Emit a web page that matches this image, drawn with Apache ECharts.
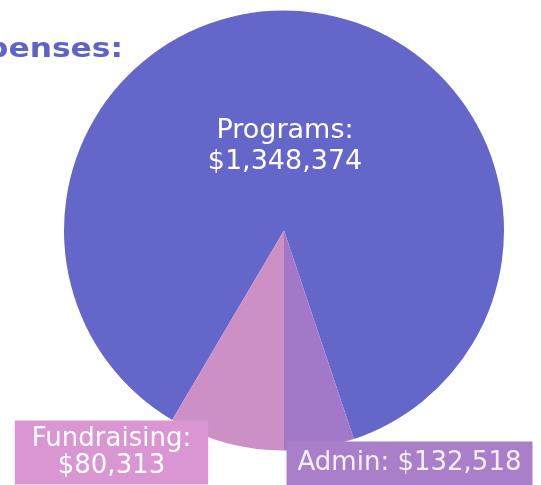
<!DOCTYPE html>
<html>
<head>
<meta charset="utf-8">
<script src="https://cdn.jsdelivr.net/npm/echarts@6/dist/echarts.min.js"></script>
<style>
html,body{margin:0;padding:0;background:#fff;}
#c{width:541px;height:485px;}
</style>
</head>
<body>
<div id="c"></div>
<script>
// Data
const categories = ['Programs', 'Fundraising', 'Admin'];
const values = [1348374, 80313, 132518];
const sliceColors = ['#6467c9', '#a279c8', '#cc90c6'];
const labelBoxColors = [null, '#da96d2', '#a97fc9'];
const titleText = 'Expenses:';

const fmt = v => '$' + v.toLocaleString('en-US');
const total = values.reduce((a, b) => a + b, 0);
// place the Fundraising/Admin boundary straight down
const startAngle = 360 * (values[0] + values[1]) / total - 90;

const FONT = 'DejaVu Sans';
const chart = echarts.init(document.getElementById('c'));

const data = categories.map((name, i) => {
  const item = { name, value: values[i], itemStyle: { color: sliceColors[i] } };
  if (i === 0) {
    item.label = {
      formatter: name + ':\n' + fmt(values[i]),
      color: '#ffffff', fontSize: 27, lineHeight: 31, fontFamily: FONT, align: 'center'
    };
  } else if (i === 1) {
    item.label = {
      formatter: name + ':\n' + fmt(values[i]),
      color: '#ffffff', fontSize: 26, lineHeight: 27, fontFamily: FONT, align: 'center',
      backgroundColor: labelBoxColors[i], padding: [5, 17, 5, 17]
    };
  } else {
    item.label = {
      formatter: name + ': ' + fmt(values[i]),
      color: '#f3eef8', fontSize: 26, lineHeight: 30, fontFamily: FONT, align: 'center',
      backgroundColor: labelBoxColors[i], padding: [7, 11, 7, 11]
    };
  }
  return item;
});

const labelPos = [[285, 146], [111.5, 452.5], [409.5, 463.5]];

chart.setOption({
  animation: false,
  graphic: [{
    type: 'text',
    x: 123, y: 50,
    scaleX: 1.16,
    style: {
      text: titleText, x: 0, y: 0, align: 'right', verticalAlign: 'middle',
      fill: '#5f63c5', font: 'bold 27px "DejaVu Sans"'
    }
  }],
  series: [{
    type: 'pie',
    center: [284, 230.5],
    radius: [0, 220],
    startAngle: startAngle,
    clockwise: true,
    label: { show: true, position: 'inside' },
    labelLine: { show: false },
    emphasis: { disabled: true },
    labelLayout: function (p) {
      const pos = labelPos[p.dataIndex];
      return { x: pos[0], y: pos[1], align: 'center', verticalAlign: 'middle' };
    },
    data: data
  }]
});
</script>
</body>
</html>
